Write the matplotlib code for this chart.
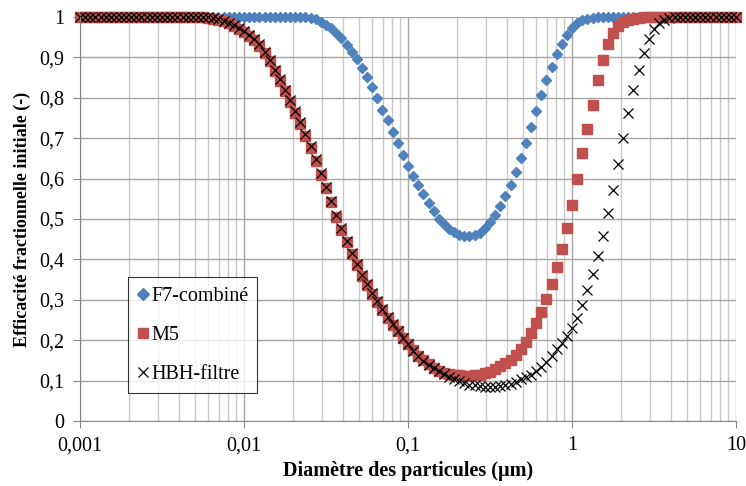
import matplotlib
matplotlib.use("Agg")
import matplotlib.pyplot as plt
from matplotlib.ticker import LogLocator, NullFormatter

plt.rcParams['font.family'] = ['Liberation Serif', 'DejaVu Serif']

# particle diameters (µm)
diam = [
    0.001, 0.001075, 0.001155, 0.001241, 0.001334, 0.001433, 0.00154, 0.001655,
    0.001778, 0.001911, 0.002054, 0.002207, 0.002371, 0.002548, 0.002738, 0.002943,
    0.003162, 0.003398, 0.003652, 0.003924, 0.004217, 0.004532, 0.00487, 0.005233,
    0.005623, 0.006043, 0.006494, 0.006978, 0.007499, 0.008058, 0.00866, 0.009306,
    0.01, 0.01075, 0.01155, 0.01241, 0.01334, 0.01433, 0.0154, 0.01655,
    0.01778, 0.01911, 0.02054, 0.02207, 0.02371, 0.02548, 0.02738, 0.02943,
    0.03162, 0.03398, 0.03652, 0.03924, 0.04217, 0.04532, 0.0487, 0.05233,
    0.05623, 0.06043, 0.06494, 0.06978, 0.07499, 0.08058, 0.0866, 0.09306,
    0.1, 0.1075, 0.1155, 0.1241, 0.1334, 0.1433, 0.154, 0.1655,
    0.1778, 0.1911, 0.2054, 0.2207, 0.2371, 0.2548, 0.2738, 0.2943,
    0.3162, 0.3398, 0.3652, 0.3924, 0.4217, 0.4532, 0.487, 0.5233,
    0.5623, 0.6043, 0.6494, 0.6978, 0.7499, 0.8058, 0.866, 0.9306,
    1.0, 1.075, 1.155, 1.241, 1.334, 1.433, 1.54, 1.655,
    1.778, 1.911, 2.054, 2.207, 2.371, 2.548, 2.738, 2.943,
    3.162, 3.398, 3.652, 3.924, 4.217, 4.532, 4.87, 5.233,
    5.623, 6.043, 6.494, 6.978, 7.499, 8.058, 8.66, 9.306,
    10.0,
]

eff_f7 = [
    1.0, 1.0, 1.0, 1.0, 1.0, 1.0, 1.0, 1.0, 1.0, 1.0, 1.0, 1.0, 1.0, 1.0, 1.0, 1.0,
    1.0, 1.0, 1.0, 1.0, 1.0, 1.0, 1.0, 1.0, 1.0, 1.0, 1.0, 1.0, 1.0, 1.0, 1.0, 1.0,
    1.0, 1.0, 1.0, 1.0, 1.0, 1.0, 1.0, 1.0, 1.0, 1.0, 1.0, 1.0, 1.0, 0.998, 0.995, 0.988,
    0.981, 0.972, 0.961, 0.947, 0.931, 0.913, 0.895, 0.874, 0.851, 0.826, 0.799, 0.771,
    0.744, 0.716, 0.688, 0.659, 0.632, 0.607, 0.584, 0.561, 0.540, 0.519, 0.501, 0.487,
    0.476, 0.467, 0.461, 0.458, 0.458, 0.460, 0.466, 0.477, 0.493, 0.511, 0.532, 0.556,
    0.585, 0.616, 0.651, 0.688, 0.727, 0.767, 0.806, 0.843, 0.877, 0.908, 0.934, 0.956,
    0.972, 0.984, 0.992, 0.996, 0.998, 1.0, 1.0, 1.0, 1.0, 1.0, 1.0, 1.0,
    1.0, 1.0, 1.0, 1.0, 1.0, 1.0, 1.0, 1.0, 1.0, 1.0, 1.0, 1.0, 1.0, 1.0, 1.0, 1.0,
    1.0, 1.0, 1.0, 1.0, 1.0,
]

eff_m5 = [
    1.0, 1.0, 1.0, 1.0, 1.0, 1.0, 1.0, 1.0, 1.0, 1.0, 1.0, 1.0, 1.0, 1.0, 1.0, 1.0,
    1.0, 1.0, 1.0, 1.0, 1.0, 1.0, 1.0, 1.0, 1.0, 0.998, 0.996, 0.993, 0.989, 0.984, 0.978, 0.971,
    0.963, 0.954, 0.944, 0.929, 0.911, 0.890, 0.867, 0.842, 0.816, 0.790, 0.763, 0.735,
    0.706, 0.676, 0.644, 0.610, 0.576, 0.541, 0.506, 0.473, 0.442, 0.413, 0.385, 0.359,
    0.336, 0.315, 0.294, 0.274, 0.255, 0.238, 0.222, 0.206, 0.191, 0.176, 0.162, 0.150,
    0.140, 0.131, 0.125, 0.120, 0.117, 0.115, 0.113, 0.112, 0.112, 0.113, 0.115, 0.118,
    0.122, 0.128, 0.135, 0.143, 0.152, 0.163, 0.177, 0.195, 0.217, 0.243, 0.270, 0.302,
    0.339, 0.382, 0.425, 0.478, 0.535, 0.600, 0.663, 0.724, 0.783, 0.845, 0.894, 0.932,
    0.960, 0.978, 0.988, 0.993, 0.996, 0.998, 0.999, 1.0,
    1.0, 1.0, 1.0, 1.0, 1.0, 1.0, 1.0, 1.0, 1.0, 1.0, 1.0, 1.0, 1.0, 1.0, 1.0, 1.0, 1.0,
]

eff_hbh = [
    1.0, 1.0, 1.0, 1.0, 1.0, 1.0, 1.0, 1.0, 1.0, 1.0, 1.0, 1.0, 1.0, 1.0, 1.0, 1.0,
    1.0, 1.0, 1.0, 1.0, 1.0, 1.0, 1.0, 1.0, 1.0, 0.999, 0.997, 0.994, 0.990, 0.986, 0.980, 0.973,
    0.965, 0.956, 0.946, 0.932, 0.914, 0.893, 0.870, 0.846, 0.820, 0.794, 0.767, 0.739,
    0.710, 0.680, 0.648, 0.614, 0.580, 0.545, 0.510, 0.477, 0.446, 0.417, 0.389, 0.362,
    0.339, 0.317, 0.296, 0.276, 0.257, 0.239, 0.222, 0.206, 0.190, 0.174, 0.160, 0.148,
    0.138, 0.130, 0.123, 0.116, 0.109, 0.103, 0.098, 0.094, 0.090, 0.088, 0.086, 0.085,
    0.084, 0.085, 0.086, 0.088, 0.092, 0.097, 0.103, 0.108, 0.115, 0.124, 0.133, 0.145,
    0.160, 0.177, 0.194, 0.210, 0.230, 0.256, 0.287, 0.324, 0.364, 0.408, 0.458, 0.514,
    0.573, 0.637, 0.700, 0.762, 0.819, 0.870, 0.912, 0.946, 0.971, 0.985, 0.993, 0.997,
    0.999, 1.0, 1.0, 1.0, 1.0, 1.0, 1.0, 1.0, 1.0, 1.0, 1.0, 1.0, 1.0,
]

x_ticks = [0.001, 0.01, 0.1, 1, 10]
x_labels = ['0,001', '0,01', '0,1', '1', '10']
y_ticks = [0, 0.1, 0.2, 0.3, 0.4, 0.5, 0.6, 0.7, 0.8, 0.9, 1]
y_labels = ['0', '0,1', '0,2', '0,3', '0,4', '0,5', '0,6', '0,7', '0,8', '0,9', '1']


def main():
    fig = plt.figure(figsize=(7.46, 4.86), dpi=100)
    ax = fig.add_axes([80 / 746, 1 - 421 / 486, 656 / 746, 404 / 486])
    ax.set_xscale('log')
    ax.set_xlim(0.001, 10)
    ax.set_ylim(0, 1)

    ax.plot(diam, eff_f7, ls='none', marker='D', ms=5.4, color='#4F81BD',
            mec='#4F81BD', clip_on=False, label='F7-combiné')
    ax.plot(diam, eff_m5, ls='none', marker='s', ms=6.7, color='#C0504D',
            mec='#C0504D', clip_on=False, label='M5')
    ax.plot(diam, eff_hbh, ls='none', marker='x', ms=6.7, mew=0.9,
            color='black', clip_on=False, label='HBH-filtre')

    # ticks and grid
    ax.set_xticks(x_ticks)
    ax.set_xticklabels(x_labels)
    ax.xaxis.set_minor_locator(LogLocator(base=10, subs=range(2, 10)))
    ax.xaxis.set_minor_formatter(NullFormatter())
    ax.set_yticks(y_ticks)
    ax.set_yticklabels(y_labels)
    ax.tick_params(which='major', direction='out', length=5, color='#868686',
                   labelsize=14.5, pad=6)
    ax.tick_params(which='minor', length=0)
    ax.grid(which='major', color='#a6a6a6', lw=1)
    ax.grid(which='minor', axis='x', color='#c8c8c8', lw=1)
    ax.set_axisbelow(True)
    for side in ['top', 'right']:
        ax.spines[side].set_visible(False)
    for side in ['left', 'bottom']:
        ax.spines[side].set_color('#868686')

    ax.set_xlabel('Diamètre des particules (µm)', fontsize=14.5,
                  fontweight='bold', labelpad=4)
    ax.set_ylabel('Efficacité fractionnelle initiale (-)', fontsize=13,
                  fontweight='bold', labelpad=6)

    leg = ax.legend(loc='lower left', bbox_to_anchor=(0.073, 0.069),
                    borderaxespad=0, fontsize=14.5, frameon=True,
                    fancybox=False, edgecolor='black', borderpad=0.45,
                    labelspacing=1.0, handlelength=0.6, handletextpad=0.1,
                    markerscale=1.1)
    leg.get_frame().set_linewidth(0.8)

    fig.savefig('out.png', dpi=100)


if __name__ == "__main__":
    main()
